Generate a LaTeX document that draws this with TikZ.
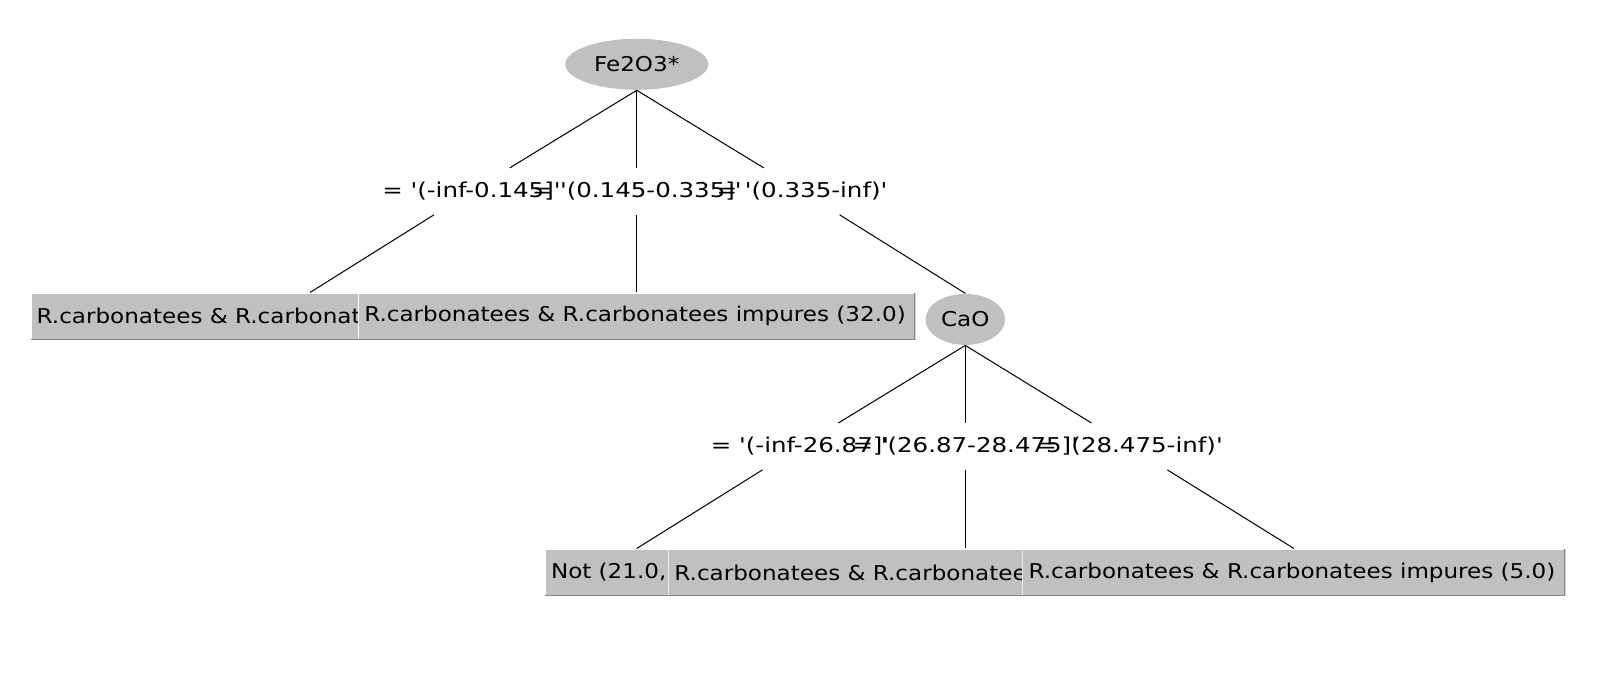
\documentclass[tikz,border=0pt]{standalone}
\usepackage{fontspec}
\setmainfont{DejaVu Sans}[FakeStretch=1.13, Ligatures=TeXOff]
\newfontfamily\condfont{DejaVu Sans}[FakeStretch=1.2, Ligatures=TeXOff]
\usetikzlibrary{shapes.geometric}

\definecolor{nodegray}{RGB}{192,192,192}
\definecolor{edgedark}{RGB}{134,134,134}

\tikzset{
  attr/.style={ellipse, fill=nodegray, inner sep=0},
  cond/.style={rectangle, inner sep=0, minimum height=45, font=\fontsize{20}{24}\condfont},
  leafbox/.style={rectangle, fill=nodegray, inner sep=0, minimum height=46,
    path picture={
      \draw[white, line width=2] (path picture bounding box.south west) -- (path picture bounding box.north west) -- (path picture bounding box.north east);
      \draw[edgedark, line width=2] (path picture bounding box.north east) -- (path picture bounding box.south east) -- (path picture bounding box.south west);
    }},
  leaftext/.style={anchor=west, inner sep=0, xshift=6}
}

\begin{document}
\begin{tikzpicture}[x=1pt, y=-1pt, line width=1pt, font=\fontsize{20}{24}\selectfont]

        \fill[white] (0,0) rectangle (1568,684);
        \useasboundingbox (0,0) rectangle (1568,684);

        % Root split
        \node[attr, minimum width=140, minimum height=50] (fe) at (624,63) {Fe2O3*};

        % Conditions below Fe2O3*
        \node[cond] (c1) at (462,187.5) {= '(-inf-0.145]'};
        \node[cond] (c2) at (624,187.5) {= '(0.145-0.335]'};
        \node[cond] (c3) at (786,187.5) {= '(0.335-inf)'};

        % Leaves of the first level
        \node[leafbox, minimum width=548] (leaf1) at (304,310) {};
        \node[leaftext] at (leaf1.west) {R.carbonatees \& R.carbonat};
        \node[leafbox, minimum width=546] (leaf2) at (624,310) {};
        \node[leaftext] at (leaf2.west) {R.carbonatees \& R.carbonatees impures (32.0)};

        % Second split
        \node[attr, minimum width=78, minimum height=50] (cao) at (946,313) {CaO};

        % Conditions below CaO
        \node[cond] (c4) at (784,437.5) {= '(-inf-26.87]'};
        \node[cond] (c5) at (946,437.5) {= '(26.87-28.475]'};
        \node[cond] (c6) at (1107,437.5) {= '(28.475-inf)'};

        % Leaves of the second level
        \node[leafbox, minimum width=180] (leaf3) at (624,561) {};
        \node[leaftext] at (leaf3.west) {Not (21.0,};
        \node[leafbox, minimum width=582] (leaf4) at (946,561) {};
        \node[leaftext] at (leaf4.west) {R.carbonatees \& R.carbonatee};
        \node[leafbox, minimum width=532] (leaf5) at (1268,561) {};
        \node[leaftext] at (leaf5.west) {R.carbonatees \& R.carbonatees impures (5.0)};

        % Edges
        \draw (fe.south) -- (c1);
        \draw (c1) -- (leaf1.north);
        \draw (fe.south) -- (c2);
        \draw (c2) -- (leaf2.north);
        \draw (fe.south) -- (c3);
        \draw (c3) -- (cao.north);

        \draw (cao.south) -- (c4);
        \draw (c4) -- (leaf3.north);
        \draw (cao.south) -- (c5);
        \draw (c5) -- (leaf4.north);
        \draw (cao.south) -- (c6);
        \draw (c6) -- (leaf5.north);

\end{tikzpicture}
\end{document}
